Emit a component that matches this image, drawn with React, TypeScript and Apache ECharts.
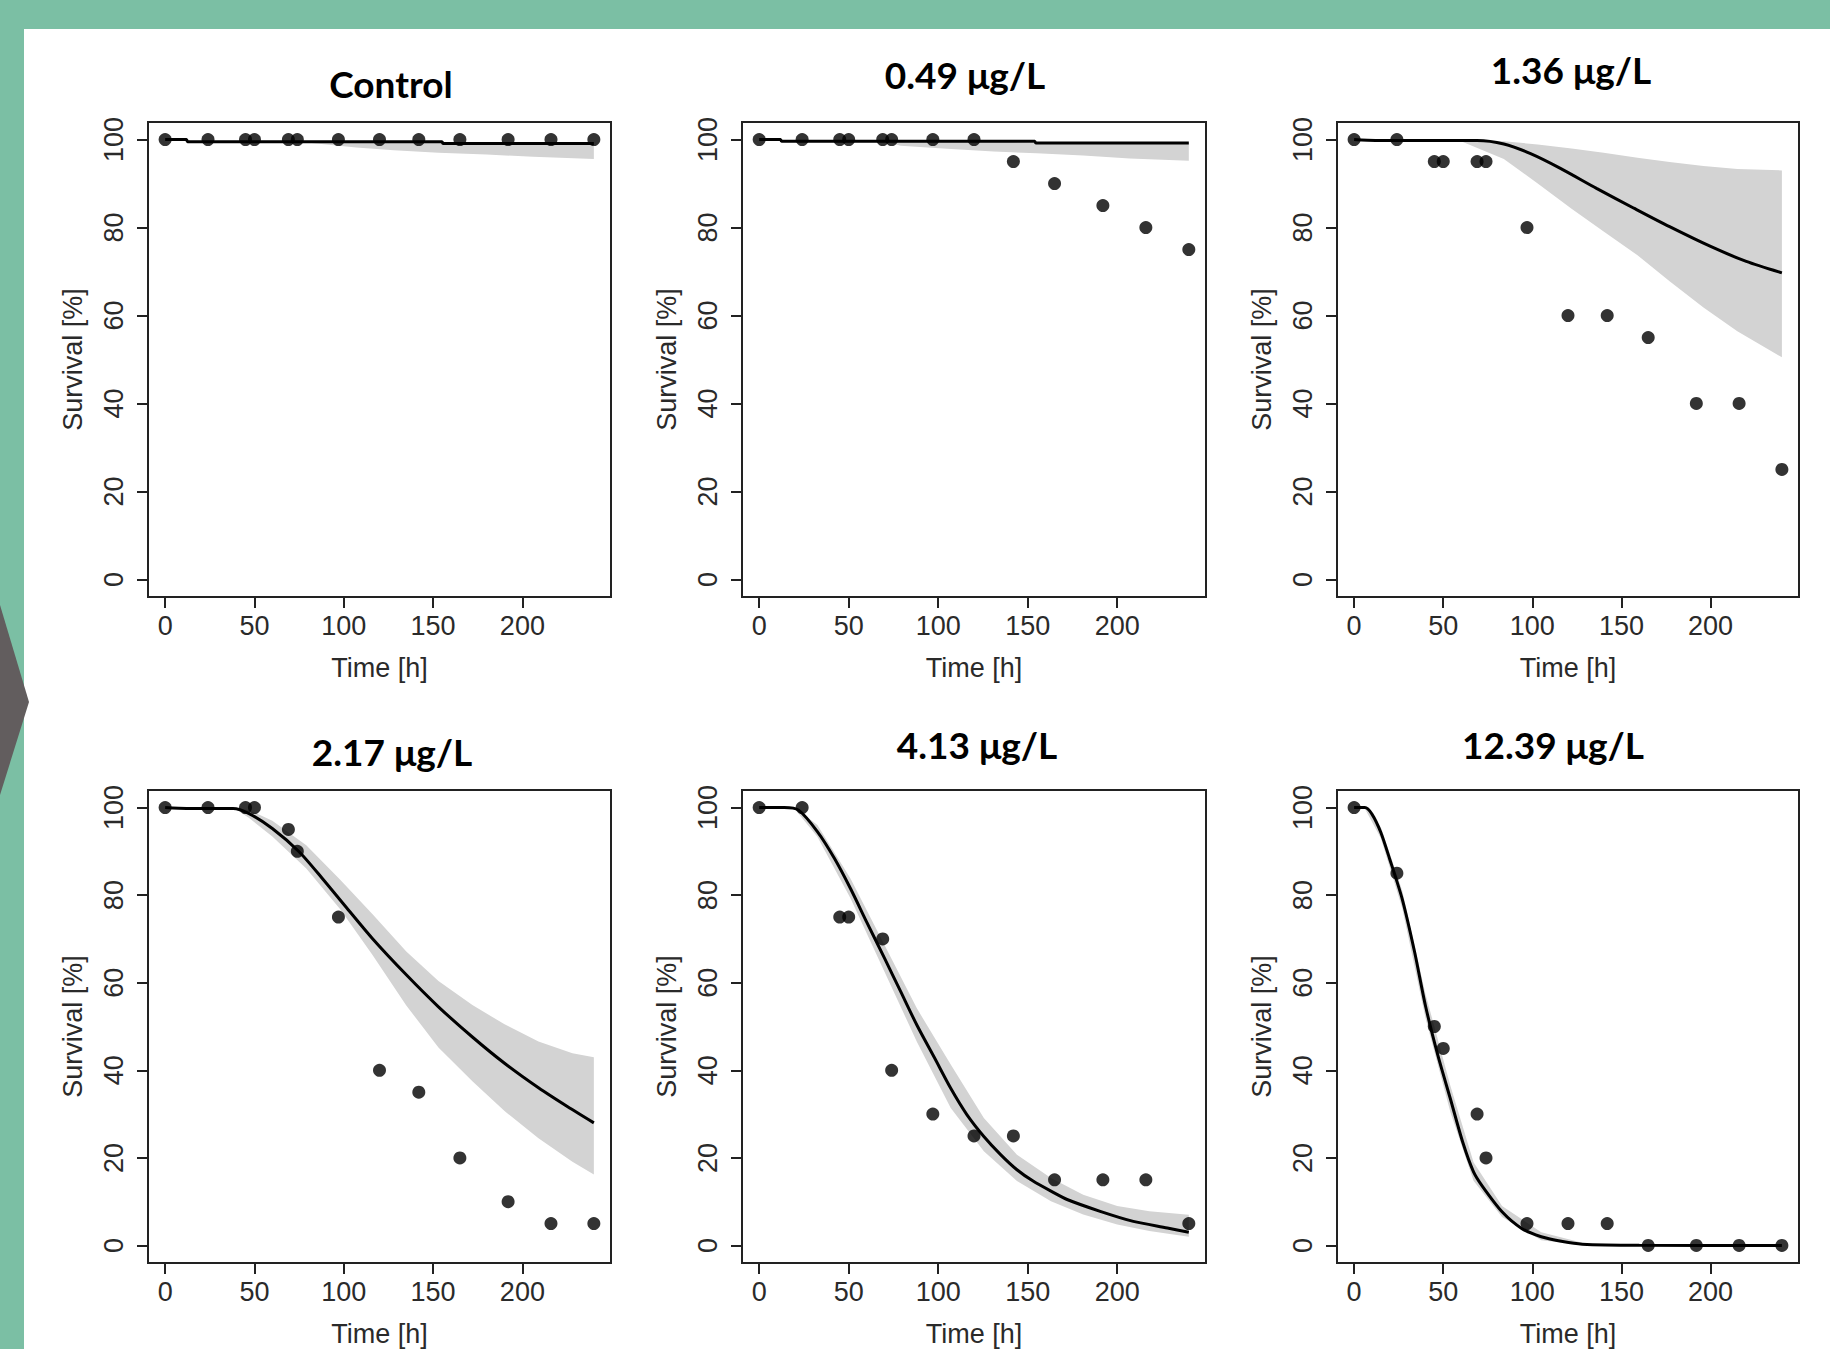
import React, { useEffect, useRef } from "react";
import * as echarts from "echarts";

// ---------- data ----------
const TIMES = [0, 24, 45, 50, 69, 74, 97, 120, 142, 165, 192, 216, 240];
const X_TICKS = [0, 50, 100, 150, 200];
const Y_TICKS = [0, 20, 40, 60, 80, 100];
const TITLES = ["Control", "0.49 μg/L", "1.36 μg/L", "2.17 μg/L", "4.13 μg/L", "12.39 μg/L"];

// observed survival [%]
const OBS_CONTROL = [100, 100, 100, 100, 100, 100, 100, 100, 100, 100, 100, 100, 100];
const OBS_049 = [100, 100, 100, 100, 100, 100, 100, 100, 95, 90, 85, 80, 75];
const OBS_136 = [100, 100, 95, 95, 95, 95, 80, 60, 60, 55, 40, 40, 25];
const OBS_217 = [100, 100, 100, 100, 95, 90, 75, 40, 35, 20, 10, 5, 5];
const OBS_413 = [100, 100, 75, 75, 70, 40, 30, 25, 25, 15, 15, 15, 5];
const OBS_1239 = [100, 85, 50, 45, 30, 20, 5, 5, 5, 0, 0, 0, 0];

// fitted curves
const FIT_CONTROL_T = [0, 12, 12.5, 155, 155.5, 240];
const FIT_CONTROL_V = [100, 100, 99.5, 99.5, 99.1, 99.1];
const FIT_049_T = [0, 12, 12.5, 154, 154.5, 240];
const FIT_049_V = [100, 100, 99.6, 99.6, 99.2, 99.2];
const FIT_136_T = [0, 12, 69, 84, 99, 116, 136, 157, 177, 200, 220, 240];
const FIT_136_V = [100, 99.8, 99.8, 99, 96.8, 93.4, 88.9, 84.4, 80.2, 75.7, 72.3, 69.7];
const FIT_217_T = [0, 12, 38, 47, 60, 75, 88, 101, 116, 135, 153, 172, 190, 209, 226, 240];
const FIT_217_V = [100, 99.8, 99.8, 98.6, 95.2, 89.9, 83.8, 77.4, 70.1, 61.8, 54.5, 47.6, 41.6, 36.0, 31.5, 28.0];
const FIT_413_T = [0, 14, 22, 32.5, 42, 51, 60, 70, 79, 88, 98, 107, 116, 125.5, 135, 144, 153, 163, 172, 190.5, 209, 228, 240];
const FIT_413_V = [100, 100, 99.4, 94.5, 88.4, 81.5, 73.9, 65.6, 58.0, 50.4, 42.8, 35.9, 29.9, 24.9, 20.7, 17.3, 14.7, 12.4, 10.5, 7.8, 5.5, 4.0, 3.0];
const FIT_1239_T = [0, 6, 10, 15, 20, 27, 34, 40, 47, 54, 61, 67, 72, 83, 94, 105, 117, 128, 160, 240];
const FIT_1239_V = [100, 100, 98.5, 94.3, 88.2, 79.1, 66.9, 54.8, 43.4, 33.5, 23.5, 16.8, 13.5, 7.7, 3.9, 2.0, 0.9, 0.3, 0.05, 0];

// credible bands
const BAND_CONTROL_T = [75, 107, 128, 153, 180, 206, 240];
const BAND_CONTROL_LO = [99.5, 98.2, 97.6, 97.0, 96.6, 96.1, 95.6];
const BAND_CONTROL_HI = [99.5, 99.5, 99.5, 99.5, 99.1, 99.1, 99.1];
const BAND_049_T = [70, 79, 105, 131, 155, 181, 207, 240];
const BAND_049_LO = [99.6, 98.6, 97.9, 97.3, 96.9, 96.4, 95.7, 95.2];
const BAND_049_HI = [99.6, 99.6, 99.6, 99.6, 99.2, 99.2, 99.2, 99.2];
const BAND_136_T = [60, 84, 103, 122, 140, 159, 177, 196, 215, 240];
const BAND_136_LO = [99.6, 95.6, 90, 84.3, 79.1, 73.7, 67.8, 61.8, 56.4, 50.5];
const BAND_136_HI = [99.9, 99.6, 98.9, 98.0, 97.0, 95.9, 94.9, 94.0, 93.3, 93.0];
const BAND_217_T = [40, 47, 60, 79, 98, 116, 135, 153, 172, 190, 209, 228, 240];
const BAND_217_LO = [99.5, 97.6, 93.4, 86.1, 76.8, 66.4, 54.8, 45.2, 37.5, 30.7, 24.5, 19.1, 16.2];
const BAND_217_HI = [99.9, 99.4, 97, 91.4, 83.5, 75.7, 67.1, 60.4, 54.9, 50.5, 46.6, 43.9, 43];
const BAND_413_T = [20, 32.5, 51, 70, 88, 107, 125.5, 144, 163, 181, 200, 218, 240];
const BAND_413_LO = [99.6, 93.3, 79.3, 62.5, 46.6, 31.4, 21.5, 14.7, 10.1, 7.1, 4.8, 3.3, 2.0];
const BAND_413_HI = [100, 96.0, 83.8, 68.6, 54.2, 41.3, 29.1, 20.7, 15.4, 11.6, 9.0, 7.8, 7.0];
const BAND_1239_T = [6, 15, 27, 40, 54, 67, 83, 105, 128];
const BAND_1239_LO = [99.8, 93, 77, 52, 30.5, 14.8, 6.5, 1.2, 0.1];
const BAND_1239_HI = [100, 95.5, 81, 57.5, 36.5, 19, 9, 3, 0.6];

const PANELS = [
  { obs: OBS_CONTROL, fitT: FIT_CONTROL_T, fitV: FIT_CONTROL_V, bT: BAND_CONTROL_T, bLo: BAND_CONTROL_LO, bHi: BAND_CONTROL_HI, smooth: false },
  { obs: OBS_049, fitT: FIT_049_T, fitV: FIT_049_V, bT: BAND_049_T, bLo: BAND_049_LO, bHi: BAND_049_HI, smooth: false },
  { obs: OBS_136, fitT: FIT_136_T, fitV: FIT_136_V, bT: BAND_136_T, bLo: BAND_136_LO, bHi: BAND_136_HI, smooth: true },
  { obs: OBS_217, fitT: FIT_217_T, fitV: FIT_217_V, bT: BAND_217_T, bLo: BAND_217_LO, bHi: BAND_217_HI, smooth: true },
  { obs: OBS_413, fitT: FIT_413_T, fitV: FIT_413_V, bT: BAND_413_T, bLo: BAND_413_LO, bHi: BAND_413_HI, smooth: true },
  { obs: OBS_1239, fitT: FIT_1239_T, fitV: FIT_1239_V, bT: BAND_1239_T, bLo: BAND_1239_LO, bHi: BAND_1239_HI, smooth: true },
];

// ---------- layout ----------
const W = 1830;
const H = 1349;
const COL_LEFT = [148, 742, 1337];
const COL_WIDTH = [463, 464, 462];
const ROW_TOP = [122, 790];
const ROW_HEIGHT = [475, 473];
const TITLE_POS = [
  [391, 83], [965, 74], [1571, 69],
  [392, 751], [977, 744], [1553, 744],
];

const AXIS_COLOR = "#222222";
const TEXT_COLOR = "#2a2a2a";
const AXIS_FONT = "'Liberation Sans', Arial, sans-serif";

export default function App() {
  const ref = useRef<HTMLDivElement>(null);

  useEffect(() => {
    document.body.style.margin = "0";
    if (!ref.current) return;
    const chart = echarts.init(ref.current, null, { renderer: "svg", width: W, height: H });

    const grids: any[] = [];
    const xAxes: any[] = [];
    const yAxes: any[] = [];
    const series: any[] = [];

    PANELS.forEach((p, i) => {
      const col = i % 3;
      const row = Math.floor(i / 3);
      grids.push({
        left: COL_LEFT[col],
        top: ROW_TOP[row],
        width: COL_WIDTH[col],
        height: ROW_HEIGHT[row],
        show: true,
        borderColor: AXIS_COLOR,
        borderWidth: 2,
        backgroundColor: "transparent",
        containLabel: false,
        outerBoundsMode: "none",
      });
      xAxes.push({
        gridIndex: i,
        type: "value",
        position: "bottom",
        min: -9.6,
        max: 249.6,
        axisLine: { show: false, onZero: false },
        axisTick: { show: true, inside: false, customValues: X_TICKS, length: 11, lineStyle: { color: AXIS_COLOR, width: 2 } },
        axisLabel: { show: true, customValues: X_TICKS, margin: 15, fontSize: 27, color: TEXT_COLOR, fontFamily: AXIS_FONT },
        splitLine: { show: false },
        name: "Time [h]",
        nameLocation: "middle",
        nameGap: 57,
        nameTextStyle: { fontSize: 27, color: TEXT_COLOR, fontFamily: AXIS_FONT },
      });
      yAxes.push({
        gridIndex: i,
        type: "value",
        position: "left",
        min: -4,
        max: 104,
        axisLine: { show: false, onZero: false },
        axisTick: { show: true, inside: false, customValues: Y_TICKS, length: 11, lineStyle: { color: AXIS_COLOR, width: 2 } },
        axisLabel: { show: true, customValues: Y_TICKS, rotate: 90, margin: 21, fontSize: 27, color: TEXT_COLOR, fontFamily: AXIS_FONT },
        splitLine: { show: false },
        name: "Survival [%]",
        nameLocation: "middle",
        nameGap: 62,
        nameTextStyle: { fontSize: 27, color: TEXT_COLOR, fontFamily: AXIS_FONT },
      });

      const bandData = p.bT.map((t, k) => [t, p.bLo[k], p.bHi[k]]);
      series.push({
        type: "custom",
        xAxisIndex: i,
        yAxisIndex: i,
        z: 2,
        silent: true,
        data: bandData,
        encode: { x: 0, y: [1, 2] },
        renderItem: (params: any, api: any) => {
          if (params.dataIndex !== 0) return null;
          const pts: number[][] = [];
          for (let k = 0; k < p.bT.length; k++) pts.push(api.coord([p.bT[k], p.bHi[k]]));
          for (let k = p.bT.length - 1; k >= 0; k--) pts.push(api.coord([p.bT[k], p.bLo[k]]));
          return { type: "polygon", shape: { points: pts }, style: { fill: "#d3d3d3", stroke: "none" } };
        },
      });
      series.push({
        type: "line",
        xAxisIndex: i,
        yAxisIndex: i,
        z: 3,
        showSymbol: false,
        smooth: p.smooth ? 0.25 : false,
        silent: true,
        data: p.fitT.map((t, k) => [t, p.fitV[k]]),
        lineStyle: { color: "#000", width: 3 },
      });
      series.push({
        type: "scatter",
        xAxisIndex: i,
        yAxisIndex: i,
        z: 4,
        symbol: "circle",
        symbolSize: 13,
        silent: true,
        data: TIMES.map((t, k) => [t, p.obs[k]]),
        itemStyle: { color: "#000" },
      });
    });

    const graphics: any[] = [
      {
        type: "polygon",
        shape: { points: [[0, 605], [29, 702], [0, 795]] },
        style: { fill: "#625d5e" },
      },
    ];
    TITLES.forEach((t, i) => {
      graphics.push({
        type: "text",
        x: TITLE_POS[i][0],
        y: TITLE_POS[i][1],
        style: {
          text: t,
          fill: "#000",
          font: "bold 37px Lato, 'Noto Sans', sans-serif",
          textAlign: "center",
          textVerticalAlign: "middle",
        },
      });
    });

    chart.setOption({
      animation: false,
      backgroundColor: "transparent",
      grid: grids,
      xAxis: xAxes,
      yAxis: yAxes,
      series,
      graphic: graphics,
    });

    return () => chart.dispose();
  }, []);

  return (
    <div style={{ position: "absolute", left: 0, top: 0, width: W, height: H, background: "#7bbfa4", overflow: "hidden" }}>
      <div style={{ position: "absolute", left: 24, top: 29, right: 0, bottom: 0, background: "#ffffff" }} />
      <div ref={ref} style={{ position: "absolute", left: 0, top: 0, width: W, height: H }} />
    </div>
  );
}
